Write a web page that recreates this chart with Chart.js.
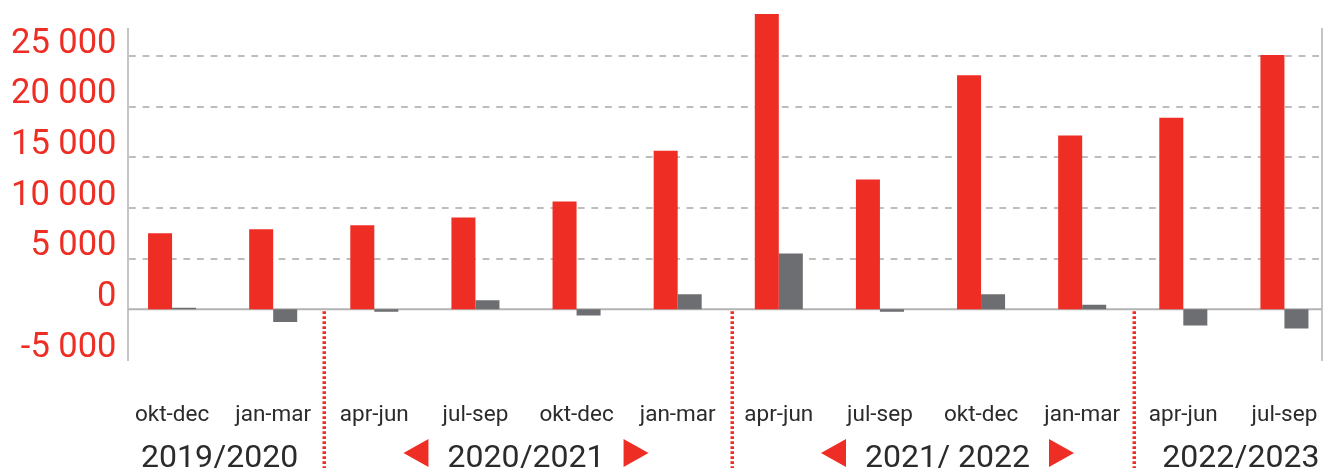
<!DOCTYPE html>
<html>
<head>
<meta charset="utf-8">
<script src="https://cdn.jsdelivr.net/npm/chart.js@4/dist/chart.umd.min.js"></script>
<style>
    html, body { margin: 0; padding: 0; background: #fff; overflow: hidden; }
    #wrap { position: relative; width: 1335px; height: 468px; }
</style>
</head>
<body>
<div id="wrap"><canvas id="chart"></canvas></div>
<script>
const seasons = ['okt-dec', 'jan-mar', 'apr-jun', 'jul-sep', 'okt-dec', 'jan-mar',
    'apr-jun', 'jul-sep', 'okt-dec', 'jan-mar', 'apr-jun', 'jul-sep'];
const red_values = [7500, 7900, 8300, 9050, 10650, 15650, 29150, 12800, 23100, 17150, 18900, 25100];
const grey_values = [150, -1250, -250, 900, -600, 1500, 5500, -250, 1500, 450, -1600, -1900];

const years = ['2019/2020', '2020/2021', '2021/ 2022', '2022/2023'];
const year_first = [0, 2, 6, 10];
const year_last = [1, 5, 9, 11];
const year_arrows = [false, true, true, false];

const y_min = -5000;
const y_max = 30000;
const y_step = 5000;

const red = '#ee2e24';
const grey = '#6d6e71';
const text_dark = '#2b2b2b';

// small nudges seen in the reference
const year_nudge = [-3, 0, 17, 7];
const sep_nudge = [0.5, 4, 1.5];

function fmt(v) {
    return String(v).replace(/\B(?=(\d{3})+(?!\d))/g, ' ');
}

const decor = {
    id: 'decor',
    beforeDatasetsDraw(chart) {
        const ctx = chart.ctx;
        const y = chart.scales.y;
        const area = chart.chartArea;
        const left = area.left + 6.5;
        const right = area.right - 13;
        ctx.save();
        // dashed grid
        ctx.strokeStyle = '#bdbdbd';
        ctx.lineWidth = 2;
        ctx.setLineDash([6.8, 6.8]);
        for (let v = y_step; v < y_max; v += y_step) {
            const py = Math.round(y.getPixelForValue(v));
            ctx.beginPath();
            ctx.moveTo(left + 1, py);
            ctx.lineTo(right - 2, py);
            ctx.stroke();
        }
        ctx.setLineDash([]);
        // zero line
        const y0 = y.getPixelForValue(0);
        ctx.strokeStyle = '#b3b3b3';
        ctx.lineWidth = 2;
        ctx.beginPath();
        ctx.moveTo(left, y0);
        ctx.lineTo(right, y0);
        ctx.stroke();
        // axis lines
        ctx.strokeStyle = '#b5b2ad';
        ctx.lineWidth = 1.5;
        ctx.beginPath();
        ctx.moveTo(left, 28);
        ctx.lineTo(left, area.bottom + 1);
        ctx.moveTo(right, 28);
        ctx.lineTo(right, area.bottom + 1);
        ctx.stroke();
        ctx.restore();
    },
    afterDraw(chart) {
        const ctx = chart.ctx;
        const x = chart.scales.x;
        const y = chart.scales.y;
        const step = x.getPixelForValue(1) - x.getPixelForValue(0);
        const y0 = y.getPixelForValue(0);
        ctx.save();
        // red dotted separators between years
        ctx.strokeStyle = red;
        ctx.lineWidth = 3.5;
        ctx.setLineDash([2.6, 2.4]);
        for (let i = 0; i < years.length - 1; i++) {
            const sx = x.getPixelForValue(year_last[i]) + step / 2 + sep_nudge[i];
            ctx.beginPath();
            ctx.moveTo(sx, y0 + 2);
            ctx.lineTo(sx, chart.height);
            ctx.stroke();
        }
        ctx.setLineDash([]);
        // year labels
        ctx.font = '32px Roboto';
        ctx.fillStyle = text_dark;
        ctx.textAlign = 'center';
        ctx.textBaseline = 'alphabetic';
        for (let i = 0; i < years.length; i++) {
            const cx = (x.getPixelForValue(year_first[i]) + x.getPixelForValue(year_last[i])) / 2 + year_nudge[i];
            ctx.fillStyle = text_dark;
            ctx.fillText(years[i], cx, 467);
            if (year_arrows[i]) {
                const half = ctx.measureText(years[i]).width / 2;
                const ay = 453;
                ctx.fillStyle = red;
                // left arrow
                let ax = cx - half - 19;
                ctx.beginPath();
                ctx.moveTo(ax, ay - 14);
                ctx.lineTo(ax, ay + 14);
                ctx.lineTo(ax - 25, ay);
                ctx.closePath();
                ctx.fill();
                // right arrow
                ax = cx + half + 19;
                ctx.beginPath();
                ctx.moveTo(ax, ay - 14);
                ctx.lineTo(ax, ay + 14);
                ctx.lineTo(ax + 25, ay);
                ctx.closePath();
                ctx.fill();
            }
        }
        ctx.restore();
    }
};

new Chart(document.getElementById('chart'), {
    type: 'bar',
    data: {
        labels: seasons,
        datasets: [{
            data: red_values,
            backgroundColor: red,
            categoryPercentage: 0.475,
            barPercentage: 1.0
        }, {
            data: grey_values,
            backgroundColor: grey,
            categoryPercentage: 0.475,
            barPercentage: 1.0
        }]
    },
    options: {
        responsive: true,
        maintainAspectRatio: false,
        animation: false,
        layout: { padding: { top: 5.3, right: 0, left: 0, bottom: 0 } },
        scales: {
            x: {
                offset: true,
                grid: { display: false, drawTicks: false },
                border: { display: false },
                ticks: {
                    color: text_dark,
                    font: { family: 'Roboto', size: 22.5 },
                    padding: 42,
                    maxRotation: 0,
                    autoSkip: false
                },
                afterFit: function (s) {
                    s.height = 108;
                    s.paddingLeft = 0;
                    s.paddingRight = 0;
                }
            },
            y: {
                min: y_min,
                max: y_max,
                grid: { display: false, drawTicks: false },
                border: { display: false },
                ticks: {
                    stepSize: y_step,
                    color: red,
                    font: { family: 'Roboto', size: 34.5 },
                    padding: 5,
                    labelOffset: -12,
                    callback: function (v) {
                        return v >= y_max ? '' : fmt(v);
                    }
                },
                afterFit: function (s) {
                    s.width = 121.5;
                    s.paddingTop = 0;
                    s.paddingBottom = 0;
                }
            }
        },
        plugins: {
            legend: { display: false },
            tooltip: { enabled: false }
        }
    },
    plugins: [decor]
});
</script>
</body>
</html>
